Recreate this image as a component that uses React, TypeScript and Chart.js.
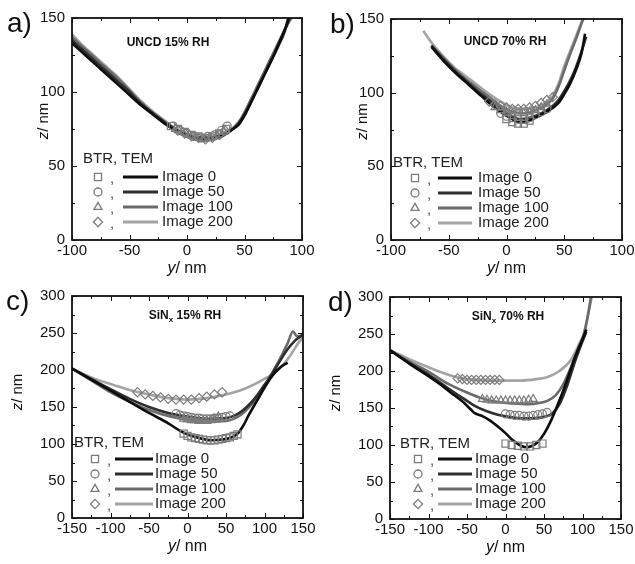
import React, { useEffect, useRef } from "react";
import { Chart, registerables } from "chart.js";

Chart.register(...registerables);

type Pt = [number, number];

// ---------- Panel a: UNCD 15% RH ----------
const aTem0: Pt[] = [[-100,133],[-90,126],[-80,119],[-70,112],[-60,105],[-50,98],[-40,91],[-30,85],[-20,79],[-10,74],[0,71],[10,68],[20,68],[30,70],[40,75],[45,78],[50,84],[55,92],[60,100],[65,108],[70,116],[75,124],[80,133],[85,142],[89,150]];
const aTem50: Pt[] = [[-100,135],[-90,128],[-80,121],[-70,114],[-60,107],[-50,100],[-40,92],[-30,86],[-20,80],[-10,75],[0,71],[10,69],[20,69],[30,71],[40,75],[45,79],[50,85],[55,92],[60,100],[65,108],[70,116],[75,124],[80,132],[85,141],[88,150]];
const aTem100: Pt[] = [[-100,137],[-90,130],[-80,123],[-70,116],[-60,109],[-50,101],[-40,93],[-30,86],[-20,80],[-10,75],[0,71],[10,69],[20,69],[30,71],[40,75],[45,79],[50,86],[55,94],[60,102],[65,110],[70,118],[75,126],[80,134],[85,142],[90,150]];
const aTem200: Pt[] = [[-100,139],[-90,131],[-80,124],[-70,117],[-60,110],[-50,102],[-40,94],[-30,87],[-20,81],[-10,75],[0,72],[10,70],[20,70],[30,72],[40,76],[45,80],[50,86],[55,94],[60,102],[65,110],[70,118],[75,126],[80,134],[85,142],[91,150]];
const aBtrSq: Pt[] = [[-14,77],[-8,75],[-2,73],[4,71],[10,70],[16,69],[22,70],[28,72],[34,75]];
const aBtrCi: Pt[] = [[-12,77],[-6,74],[0,72],[6,70],[12,69],[18,70],[24,71],[30,74],[35,77]];
const aBtrTr: Pt[] = [[-10,75],[-4,73],[2,71],[8,69],[14,68],[20,69],[26,70],[32,73]];
const aBtrDi: Pt[] = [[-8,74],[-2,72],[4,70],[10,69],[16,68],[22,69],[28,71],[33,74]];

// ---------- Panel b: UNCD 70% RH ----------
const bTem0: Pt[] = [[-65,131],[-55,122],[-45,114],[-35,107],[-25,100],[-15,93],[-5,87],[5,82],[10,80],[15,80],[25,83],[35,87],[45,93],[50,99],[55,106],[60,115],[65,127],[68,140]];
const bTem50: Pt[] = [[-65,132],[-55,123],[-45,115],[-35,108],[-25,101],[-15,95],[-5,89],[5,84],[12,82],[20,83],[30,86],[40,91],[45,95],[50,101],[55,108],[60,117],[65,128],[69,138]];
const bTem100: Pt[] = [[-65,132],[-55,124],[-45,116],[-35,109],[-25,103],[-15,97],[-5,91],[5,87],[15,86],[25,88],[35,92],[40,96],[45,104],[50,115],[55,126],[60,136],[65,147],[67,151]];
const bTem200: Pt[] = [[-72,142],[-65,134],[-55,125],[-45,117],[-35,111],[-25,105],[-15,99],[-5,94],[5,90],[15,89],[25,90],[35,94],[40,98],[45,106],[50,118],[55,128],[60,138],[65,148],[67,152]];
const bBtrSq: Pt[] = [[0,82],[5,80],[10,79],[15,79],[20,81]];
const bBtrCi: Pt[] = [[-5,86],[0,84],[5,83],[10,82],[15,82],[20,83],[25,85],[30,87],[35,89]];
const bBtrTr: Pt[] = [[-10,90],[-5,88],[0,87],[5,86],[10,86],[15,86],[20,87],[25,88],[30,90],[35,92]];
const bBtrDi: Pt[] = [[-15,94],[-10,92],[-5,91],[0,90],[5,89],[10,89],[15,89],[20,90],[25,91],[30,93],[35,95],[40,97]];

// ---------- Panel c: SiNx 15% RH ----------
const cTem0: Pt[] = [[-150,202],[-125,187],[-100,172],[-75,157],[-50,142],[-25,128],[-10,118],[0,113],[15,108],[30,105],[45,106],[55,108],[65,114],[72,124],[80,140],[90,158],[100,176],[110,192],[120,203],[130,210]];
const cTem50: Pt[] = [[-150,202],[-125,188],[-100,174],[-75,161],[-50,150],[-25,142],[0,137],[25,134],[50,135],[60,138],[70,144],[80,153],[90,165],[100,180],[110,195],[120,212],[130,228],[140,240],[150,248]];
const cTem100: Pt[] = [[-150,202],[-125,186],[-100,170],[-75,157],[-50,146],[-25,138],[0,133],[25,130],[50,131],[60,134],[70,140],[80,150],[90,162],[100,178],[110,196],[120,215],[130,236],[137,252],[142,246],[150,246]];
const cTem200: Pt[] = [[-150,202],[-125,190],[-100,181],[-75,173],[-50,167],[-25,162],[0,160],[25,162],[50,167],[75,175],[100,188],[115,198],[125,208],[135,222],[145,238],[150,244]];
const cBtrSq: Pt[] = [[-5,114],[0,111],[5,109],[10,108],[15,107],[20,106],[25,105],[30,105],[35,105],[40,106],[45,107],[50,108],[55,109],[60,111],[65,113]];
const cBtrCi: Pt[] = [[-15,141],[-10,139],[-5,138],[0,137],[5,136],[10,135],[15,135],[20,134],[25,134],[30,134],[35,135],[40,135],[45,136],[50,137],[55,138]];
const cBtrTr: Pt[] = [[-5,134],[0,133],[5,132],[10,132],[15,131],[20,131],[25,131],[30,132],[35,134],[40,137]];
const cBtrDi: Pt[] = [[-65,170],[-55,167],[-45,165],[-35,163],[-25,161],[-15,160],[-5,160],[5,160],[15,162],[25,164],[35,167],[45,170]];

// ---------- Panel d: SiNx 70% RH ----------
const dTem0: Pt[] = [[-150,228],[-125,210],[-100,193],[-85,182],[-70,170],[-55,158],[-45,148],[-40,143],[-30,139],[-20,133],[-10,125],[0,116],[10,106],[20,99],[27,97],[35,99],[42,104],[50,115],[60,135],[70,160],[80,188],[90,218],[100,243],[105,256]];
const dTem50: Pt[] = [[-150,228],[-125,211],[-100,195],[-75,177],[-55,163],[-40,153],[-25,146],[-10,141],[5,138],[20,136],[35,136],[50,138],[60,142],[70,155],[80,180],[90,212],[100,240],[105,253]];
const dTem100: Pt[] = [[-150,228],[-125,213],[-100,199],[-75,183],[-50,171],[-30,163],[-10,158],[10,156],[30,155],[45,157],[55,160],[65,167],[75,182],[85,205],[95,232],[102,250],[107,275],[111,300]];
const dTem200: Pt[] = [[-150,228],[-125,216],[-100,205],[-80,197],[-60,191],[-40,188],[-20,187],[0,187],[20,187],[40,189],[55,192],[70,200],[85,215],[95,235],[102,252],[107,275],[112,300]];
const dBtrSq: Pt[] = [[0,102],[8,100],[16,99],[24,98],[32,98],[40,100],[48,102]];
const dBtrCi: Pt[] = [[0,142],[6,141],[12,140],[18,140],[24,139],[30,139],[36,140],[42,141],[48,142],[54,144]];
const dBtrTr: Pt[] = [[-30,162],[-24,161],[-18,160],[-12,160],[-6,160],[0,160],[6,160],[12,160],[18,160],[24,160],[30,161],[36,162]];
const dBtrDi: Pt[] = [[-62,190],[-56,189],[-50,188],[-44,188],[-38,188],[-32,188],[-26,188],[-20,188],[-14,188],[-8,188]];

// ---------- shared labels ----------
const seriesLabels = ["Image 0", "Image 50", "Image 100", "Image 200"];
const legendHeader = "BTR, TEM";
const yTitle = ["z", "/ nm"];
const xTitle = ["y", "/ nm"];

// ---------- styles ----------
const FONT = "'Liberation Sans', Arial, Helvetica, sans-serif";
const lineColors = ["#0d0d0d", "#2e2e2e", "#6b6b6b", "#a4a4a4"];
const markerStyles = ["rect", "circle", "triangle", "rectRot"];
const markerRadius = [5, 4, 4.6, 4.6];
const markerColor = "#7c7c7c";

type Panel = {
  letter: string;
  letterDx: number;
  annot: [string, string, string];
  xMin: number; xMax: number; yMax: number;
  tem: Pt[][]; btr: Pt[][];
  frame: { L: number; T: number; R: number; B: number };
  annotDx: number; annotDy: number;
  yt: { dx: number; dy: number };
  leg: { hx: number; hy: number; mx: number; l1: number; l2: number; tx: number; r0: number };
};

const panels: Panel[] = [
  { letter: "a)", letterDx: -65, annot: ["UNCD 15% RH", "", ""], xMin: -100, xMax: 100, yMax: 150,
    tem: [aTem0, aTem50, aTem100, aTem200], btr: [aBtrSq, aBtrCi, aBtrTr, aBtrDi],
    frame: { L: 72, T: 18, R: 302, B: 240 }, annotDx: 96, annotDy: 24, yt: { dx: -24, dy: -8 },
    leg: { hx: 11, hy: -81, mx: 26, l1: 51, l2: 86, tx: 90, r0: -63 } },
  { letter: "b)", letterDx: -61, annot: ["UNCD 70% RH", "", ""], xMin: -100, xMax: 100, yMax: 150,
    tem: [bTem0, bTem50, bTem100, bTem200], btr: [bBtrSq, bBtrCi, bBtrTr, bBtrDi],
    frame: { L: 391, T: 19, R: 622, B: 240 }, annotDx: 114, annotDy: 22, yt: { dx: -24, dy: -8 },
    leg: { hx: 2, hy: -77, mx: 24, l1: 47, l2: 81, tx: 87, r0: -62 } },
  { letter: "c)", letterDx: -66, annot: ["SiN", "x", " 15% RH"], xMin: -150, xMax: 150, yMax: 300,
    tem: [cTem0, cTem50, cTem100, cTem200], btr: [cBtrSq, cBtrCi, cBtrTr, cBtrDi],
    frame: { L: 72, T: 296, R: 303, B: 518 }, annotDx: 113, annotDy: 19, yt: { dx: -50, dy: -15 },
    leg: { hx: 2, hy: -75, mx: 23, l1: 43, l2: 81, tx: 83, r0: -59 } },
  { letter: "d)", letterDx: -62, annot: ["SiN", "x", " 70% RH"], xMin: -150, xMax: 150, yMax: 300,
    tem: [dTem0, dTem50, dTem100, dTem200], btr: [dBtrSq, dBtrCi, dBtrTr, dBtrDi],
    frame: { L: 390, T: 297, R: 621, B: 519 }, annotDx: 118, annotDy: 19, yt: { dx: -50, dy: -15 },
    leg: { hx: 10, hy: -75, mx: 28, l1: 48, l2: 82, tx: 85, r0: -60 } },
];

const PAD_L = 72, PAD_T = 20, PAD_R = 22, PAD_B = 42;

function drawMarker(ctx: CanvasRenderingContext2D, style: string, x: number, y: number, r: number) {
  ctx.beginPath();
  if (style === "rect") {
    const s = r * Math.SQRT1_2;
    ctx.rect(x - s, y - s, 2 * s, 2 * s);
  } else if (style === "circle") {
    ctx.arc(x, y, r, 0, Math.PI * 2);
  } else if (style === "triangle") {
    ctx.moveTo(x, y - r);
    ctx.lineTo(x + r * 0.866, y + r * 0.5);
    ctx.lineTo(x - r * 0.866, y + r * 0.5);
    ctx.closePath();
  } else {
    ctx.moveTo(x, y - r);
    ctx.lineTo(x + r, y);
    ctx.lineTo(x, y + r);
    ctx.lineTo(x - r, y);
    ctx.closePath();
  }
  ctx.stroke();
}

function makePlugin(p: Panel) {
  return {
    id: "decor",
    afterDraw(chart: any) {
      const ctx: CanvasRenderingContext2D = chart.ctx;
      const ca = chart.chartArea;
      const xs = chart.scales.x;
      const ys = chart.scales.y;
      ctx.save();
      ctx.strokeStyle = "#111";
      ctx.lineWidth = 1;
      for (let v = p.xMin; v <= p.xMax; v += 25) {
        const px = Math.round(xs.getPixelForValue(v)) + 0.5;
        const len = v % 50 === 0 ? 5 : 3;
        ctx.beginPath();
        ctx.moveTo(px, ca.bottom); ctx.lineTo(px, ca.bottom - len);
        ctx.moveTo(px, ca.top); ctx.lineTo(px, ca.top + len);
        ctx.stroke();
      }
      for (let v = 0; v <= p.yMax; v += 25) {
        const py = Math.round(ys.getPixelForValue(v)) + 0.5;
        const len = v % 50 === 0 ? 5 : 3;
        ctx.beginPath();
        ctx.moveTo(ca.left, py); ctx.lineTo(ca.left + len, py);
        ctx.moveTo(ca.right, py); ctx.lineTo(ca.right - len, py);
        ctx.stroke();
      }
      ctx.lineWidth = 1.8;
      ctx.strokeStyle = "#111";
      ctx.strokeRect(ca.left, ca.top, ca.right - ca.left, ca.bottom - ca.top);

      // panel letter
      ctx.fillStyle = "#111";
      ctx.font = `28px ${FONT}`;
      ctx.textAlign = "left";
      ctx.textBaseline = "middle";
      ctx.fillText(p.letter, ca.left + p.letterDx, ca.top + 6);

      // annotation
      const [pre, sub, post] = p.annot;
      const big = `bold 12px ${FONT}`;
      const small = `bold 8px ${FONT}`;
      ctx.font = big;
      const w1 = ctx.measureText(pre).width;
      const w3 = ctx.measureText(post).width;
      ctx.font = small;
      const w2 = sub ? ctx.measureText(sub).width : 0;
      let ax = ca.left + p.annotDx - (w1 + w2 + w3) / 2;
      const ay = ca.top + p.annotDy;
      ctx.textBaseline = "alphabetic";
      ctx.font = big;
      ctx.fillText(pre, ax, ay + 4);
      ax += w1;
      if (sub) {
        ctx.font = small;
        ctx.fillText(sub, ax, ay + 7);
        ax += w2;
        ctx.font = big;
        ctx.fillText(post, ax, ay + 4);
      }

      // axis titles
      const tf = `16px ${FONT}`;
      const tfi = `italic 16px ${FONT}`;
      ctx.font = tfi;
      const xw1 = ctx.measureText(xTitle[0]).width;
      ctx.font = tf;
      const xw2 = ctx.measureText(xTitle[1]).width;
      const xcx = (ca.left + ca.right) / 2;
      const xty = ca.bottom + 33;
      ctx.font = tfi;
      ctx.fillText(xTitle[0], xcx - (xw1 + xw2) / 2, xty);
      ctx.font = tf;
      ctx.fillText(xTitle[1], xcx - (xw1 + xw2) / 2 + xw1, xty);

      const yf = `15px ${FONT}`;
      const yfi = `italic 15px ${FONT}`;
      ctx.save();
      ctx.translate(ca.left + p.yt.dx, (ca.top + ca.bottom) / 2 + p.yt.dy);
      ctx.rotate(-Math.PI / 2);
      ctx.font = yfi;
      const yw1 = ctx.measureText(yTitle[0]).width;
      ctx.font = yf;
      const yw2 = ctx.measureText(yTitle[1]).width;
      ctx.font = yfi;
      ctx.fillText(yTitle[0], -(yw1 + yw2) / 2, 0);
      ctx.font = yf;
      ctx.fillText(yTitle[1], -(yw1 + yw2) / 2 + yw1, 0);
      ctx.restore();

      // legend
      const lg = p.leg;
      ctx.font = `15px ${FONT}`;
      ctx.textBaseline = "middle";
      ctx.fillStyle = "#222";
      ctx.fillText(legendHeader, ca.left + lg.hx, ca.bottom + lg.hy);
      for (let i = 0; i < 4; i++) {
        const ry = ca.bottom + lg.r0 + i * 15;
        ctx.strokeStyle = markerColor;
        ctx.lineWidth = 1.3;
        drawMarker(ctx, markerStyles[i], ca.left + lg.mx, ry, markerRadius[i]);
        ctx.fillStyle = "#555";
        ctx.fillText(",", ca.left + lg.mx + 12, ry + 2);
        ctx.strokeStyle = lineColors[i];
        ctx.lineWidth = 3;
        ctx.beginPath();
        ctx.moveTo(ca.left + lg.l1, ry);
        ctx.lineTo(ca.left + lg.l2, ry);
        ctx.stroke();
        ctx.fillStyle = "#222";
        ctx.fillText(seriesLabels[i], ca.left + lg.tx, ry);
      }
      ctx.restore();
    },
  };
}

function PanelChart({ p }: { p: Panel }) {
  const ref = useRef<HTMLCanvasElement | null>(null);
  const f = p.frame;
  const left = f.L - PAD_L;
  const top = f.T - PAD_T;
  const width = f.R - f.L + PAD_L + PAD_R;
  const height = f.B - f.T + PAD_T + PAD_B;
  useEffect(() => {
    if (!ref.current) return;
    const datasets: any[] = [];
    p.btr.forEach((pts, i) => {
      datasets.push({
        label: `BTR ${seriesLabels[i]}`,
        data: pts.map(([x, y]) => ({ x, y })),
        showLine: false,
        pointStyle: markerStyles[i],
        pointRadius: markerRadius[i],
        pointBorderWidth: 1.2,
        borderColor: markerColor,
        backgroundColor: "rgba(255,255,255,0)",
      });
    });
    p.tem.forEach((pts, i) => {
      datasets.push({
        label: `TEM ${seriesLabels[i]}`,
        data: pts.map(([x, y]) => ({ x, y })),
        showLine: true,
        pointRadius: 0,
        borderWidth: 2.6,
        borderColor: lineColors[i],
        backgroundColor: lineColors[i],
        cubicInterpolationMode: "monotone",
      });
    });
    const tickFont = { family: FONT, size: 15 };
    const chart = new Chart(ref.current, {
      type: "scatter",
      data: { datasets },
      options: {
        responsive: false,
        animation: false,
        devicePixelRatio: 1,
        layout: { padding: { left: 0, top: PAD_T, right: PAD_R, bottom: 0 } },
        plugins: { legend: { display: false }, tooltip: { enabled: false } },
        scales: {
          x: {
            type: "linear", min: p.xMin, max: p.xMax,
            ticks: { stepSize: 50, autoSkip: false, maxRotation: 0, padding: 2, color: "#111", font: tickFont },
            grid: { display: false, drawTicks: false },
            border: { display: false },
            afterFit: (s: any) => { s.height = PAD_B; s.paddingLeft = 0; s.paddingRight = 0; s.paddingTop = 0; s.paddingBottom = 0; },
          },
          y: {
            type: "linear", min: 0, max: p.yMax,
            ticks: { stepSize: 50, autoSkip: false, padding: 7, color: "#111", font: tickFont },
            grid: { display: false, drawTicks: false },
            border: { display: false },
            afterFit: (s: any) => { s.width = PAD_L; s.paddingLeft = 0; s.paddingRight = 0; s.paddingTop = 0; s.paddingBottom = 0; },
          },
        },
      } as any,
      plugins: [makePlugin(p)],
    });
    return () => chart.destroy();
  }, [p]);
  return (
    <canvas
      ref={ref}
      width={width}
      height={height}
      style={{ position: "absolute", left, top, width, height }}
    />
  );
}

export default function App() {
  return (
    <div style={{ position: "absolute", left: 0, top: 0, width: 635, height: 564, overflow: "hidden", background: "#fff" }}>
      {panels.map((p) => (
        <PanelChart key={p.letter} p={p} />
      ))}
    </div>
  );
}
